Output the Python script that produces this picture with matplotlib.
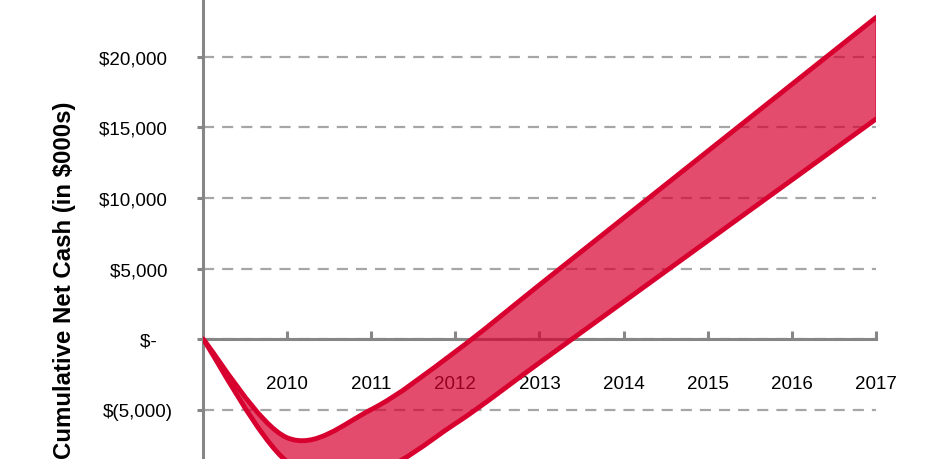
"""
Cumulative net cash band: high vs low estimate, 2009-2017.
"""

import numpy as np
import matplotlib
matplotlib.use("Agg")
import matplotlib.pyplot as plt
from matplotlib.path import Path
from matplotlib.patches import PathPatch


# ===============================
# DATA (in $000s)
# ===============================

years = [2009, 2010, 2011, 2012, 2013, 2014, 2015, 2016, 2017]
high_case = [0, -7000, -5000, -900, 3840, 8580, 13320, 18060, 22800]
low_case = [0, -8700, -9500, -6000, -1680, 2640, 6960, 11280, 15600]

year_ticks = [2010, 2011, 2012, 2013, 2014, 2015, 2016, 2017]
cash_ticks = [-10000, -5000, 0, 5000, 10000, 15000, 20000, 25000]
cash_labels = ["$(10,000)", "$(5,000)", "$-   ", "$5,000 ", "$10,000 ",
               "$15,000 ", "$20,000 ", "$25,000 "]

RED = "#D8002F"
GRID = "#A6A6A6"
AXIS = "#868686"


# ===============================
# SMOOTHED LINE (Excel style bezier)
# ===============================

def smooth_vertices(x, y):
    pts = np.column_stack([x, y]).astype(float)
    n = len(pts)
    verts = [pts[0]]
    codes = [Path.MOVETO]
    for i in range(n - 1):
        p_prev = pts[max(i - 1, 0)]
        p0 = pts[i]
        p1 = pts[i + 1]
        p_next = pts[min(i + 2, n - 1)]
        c1 = p0 + (p1 - p_prev) / 6.0
        c2 = p1 - (p_next - p0) / 6.0
        verts += [c1, c2, p1]
        codes += [Path.CURVE4] * 3
    return verts, codes


def main():
    plt.rcParams["font.family"] = ["Liberation Sans", "DejaVu Sans"]

    fig = plt.figure(figsize=(9.42, 4.6), dpi=100)
    # axes reaches past the figure edges: the picture is a crop
    ax = fig.add_axes([0.2155, -0.0457, 0.7144, 1.0729])

    up_v, up_c = smooth_vertices(years, high_case)
    lo_v, lo_c = smooth_vertices(years[::-1], low_case[::-1])

    # band between the two curves
    band_v = up_v + [lo_v[0]] + lo_v[1:] + [up_v[0]]
    band_c = up_c + [Path.LINETO] + lo_c[1:] + [Path.CLOSEPOLY]
    ax.add_patch(PathPatch(Path(band_v, band_c), facecolor=RED, alpha=0.7,
                           edgecolor=RED, linewidth=1.0, zorder=2))

    for v, c in [(up_v, up_c), (lo_v, lo_c)]:
        ax.add_patch(PathPatch(Path(v, c), facecolor="none", edgecolor=RED,
                               linewidth=3.5, capstyle="round",
                               joinstyle="round", zorder=3))

    ax.set_xlim(2009, 2017)
    ax.set_ylim(-10000, 25000)

    ax.set_axisbelow(True)
    for s in ["top", "right"]:
        ax.spines[s].set_visible(False)
    ax.spines["bottom"].set_position(("data", 0))
    for s in ["bottom", "left"]:
        ax.spines[s].set_color(AXIS)
        ax.spines[s].set_linewidth(2.2)
        ax.spines[s].set_zorder(1)

    ax.set_xticks(year_ticks)
    ax.set_xticklabels([str(y) for y in year_ticks])
    ax.tick_params(axis="x", direction="in", length=6, width=2.2,
                   color=AXIS, pad=26, labelsize=13.5)

    ax.set_yticks(cash_ticks)
    ax.set_yticklabels(cash_labels)
    ax.tick_params(axis="y", direction="out", length=4, width=2.2,
                   color=AXIS, pad=18, labelsize=13.5)

    ax.yaxis.grid(True, color=GRID, linewidth=1.6, linestyle=(0, (5, 3.6)))
    ax.xaxis.grid(False)

    fig.text(0.069, 0.391, "Cumulative Net Cash (in $000s)", rotation=90,
             fontsize=17.3, fontweight="bold", ha="center", va="center")

    fig.savefig("out.png", dpi=100)


if __name__ == "__main__":
    main()
